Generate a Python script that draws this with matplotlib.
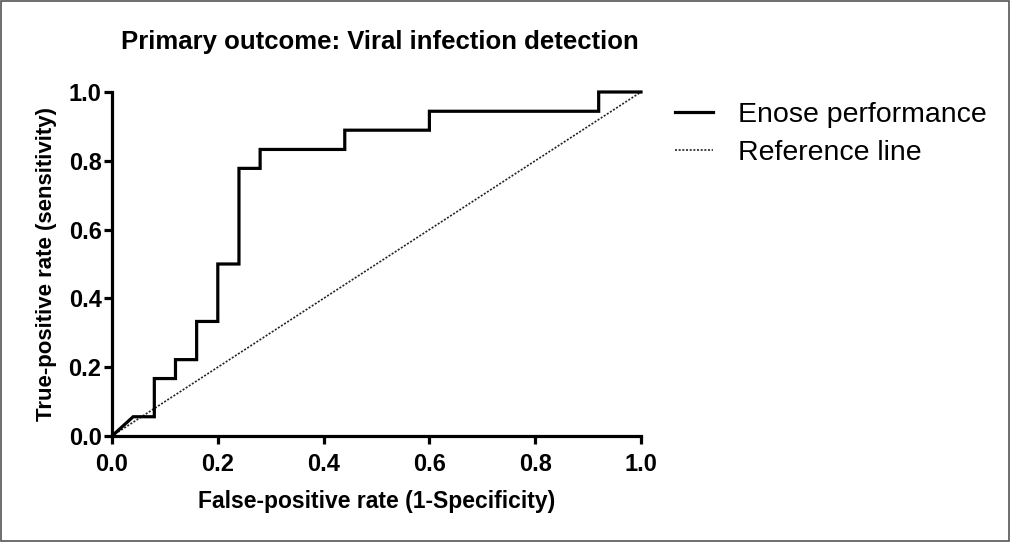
import matplotlib
matplotlib.use("Agg")
import matplotlib.pyplot as plt
from matplotlib.patches import Rectangle

# ROC curve vertices (false-positive rate, true-positive rate)
fpr = [0.0, 0.04, 0.08, 0.08, 0.12, 0.12, 0.16, 0.16, 0.20, 0.20, 0.24, 0.24,
       0.28, 0.28, 0.44, 0.44, 0.60, 0.60, 0.92, 0.92, 1.0]
tpr = [0.0, 0.056, 0.056, 0.167, 0.167, 0.222, 0.222, 0.333, 0.333, 0.5, 0.5, 0.778,
       0.778, 0.833, 0.833, 0.889, 0.889, 0.944, 0.944, 1.0, 1.0]
ref_x = [0.0, 1.0]
ref_y = [0.0, 1.0]
ticks = [0.0, 0.2, 0.4, 0.6, 0.8, 1.0]
tick_labels = ["0.0", "0.2", "0.4", "0.6", "0.8", "1.0"]

plt.rcParams['font.family'] = ['Liberation Sans', 'DejaVu Sans']

fig = plt.figure(figsize=(10.11, 5.42), dpi=100)
ax = fig.add_axes([112/1011, 1-436/542, (641-112)/1011, (436-92)/542])

ax.plot(fpr, tpr, color='black', lw=2.3, solid_joinstyle='miter',
        clip_on=False, zorder=3, label='Enose performance')
ax.plot(ref_x, ref_y, color='#222222', lw=1.2, ls=(0, (1.2, 1.0)),
        clip_on=False, zorder=2, label='Reference line')

ax.set_xlim(0, 1)
ax.set_ylim(0, 1)
ax.set_xticks(ticks)
ax.set_xticklabels(tick_labels)
ax.set_yticks(ticks)
ax.set_yticklabels(tick_labels)

for s in ['top', 'right']:
    ax.spines[s].set_visible(False)
for s in ['left', 'bottom']:
    ax.spines[s].set_linewidth(2.3)
    ax.spines[s].set_color('black')

ax.tick_params(axis='both', direction='out', length=6, width=2.3, color='black',
               labelsize=17)
ax.tick_params(axis='x', pad=6)
ax.tick_params(axis='y', pad=1.5)
for lab in ax.get_xticklabels() + ax.get_yticklabels():
    lab.set_fontweight('bold')

ax.set_xlabel('False-positive rate (1-Specificity)', fontsize=16.5, fontweight='bold',
              labelpad=10)
ax.set_ylabel('True-positive rate (sensitivity)', fontsize=16, fontweight='bold',
              labelpad=8)

fig.text(380/1011, 1-42/542, 'Primary outcome: Viral infection detection',
         ha='center', va='center', fontsize=18.5, fontweight='bold')

leg = ax.legend(loc='upper left', bbox_to_anchor=(675/1011, 1-102/542),
                bbox_transform=fig.transFigure, frameon=False, fontsize=20.5,
                handlelength=1.35, handletextpad=0.85, labelspacing=0.42,
                borderaxespad=0, borderpad=0)

fig.patches.append(Rectangle((0.0005, 0.001), 0.998, 0.997, transform=fig.transFigure,
                             fill=False, edgecolor='#555555', lw=1.2))

fig.savefig('out.png', dpi=100)
